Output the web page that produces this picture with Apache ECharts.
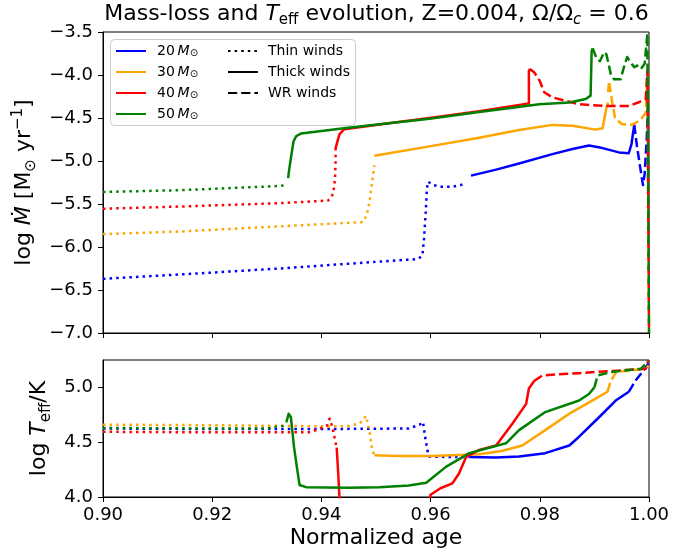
<!DOCTYPE html>
<html><head><meta charset="utf-8">
<script src="https://cdn.jsdelivr.net/npm/echarts@6/dist/echarts.min.js"></script>
<style>html,body{margin:0;padding:0;background:#fff}#c{width:699px;height:555px}</style>
</head><body><div id="c"></div>
<script>
// ---------- categories / ticks ----------
const masses = ['20', '30', '40', '50'];
const massColors = ['#0000ff', '#ffa500', '#ff0000', '#008000'];
const windTypes = ['Thin winds', 'Thick winds', 'WR winds'];
const xTicks = [0.90, 0.92, 0.94, 0.96, 0.98, 1.00];
const mdotTicks = [-7.0, -6.5, -6.0, -5.5, -5.0, -4.5, -4.0, -3.5];
const teffTicks = [4.0, 4.5, 5.0];

// ---------- log Mdot (top panel) ----------
const mdot20Thin = [[0.900,-6.37],[0.914,-6.32],[0.9324,-6.25],[0.9506,-6.17],[0.9577,-6.14],[0.9585,-6.10],[0.9588,-5.90],[0.9591,-5.60],[0.9593,-5.35],[0.9595,-5.24],[0.9605,-5.28],[0.9620,-5.30],[0.9640,-5.30],[0.9655,-5.28],[0.9662,-5.26]];
const mdot20Thick = [[0.9674,-5.17],[0.9720,-5.10],[0.9762,-5.03],[0.9823,-4.92],[0.9860,-4.86],[0.9890,-4.82],[0.9915,-4.85],[0.9945,-4.90],[0.9963,-4.91],[0.9968,-4.80],[0.9973,-4.58]];
const mdot20WR = [[0.9973,-4.58],[0.9978,-4.83],[0.9985,-5.12],[0.9989,-5.28],[0.9992,-5.15],[0.9996,-4.73],[0.9998,-4.40]];

const mdot30Thin = [[0.900,-5.85],[0.914,-5.82],[0.9324,-5.76],[0.9476,-5.71],[0.9483,-5.63],[0.9488,-5.48],[0.9493,-5.24],[0.9495,-5.14],[0.9497,-5.05]];
const mdot30Thick = [[0.9497,-4.94],[0.9598,-4.83],[0.9689,-4.73],[0.9762,-4.64],[0.9823,-4.58],[0.9860,-4.59],[0.9902,-4.635],[0.9915,-4.62],[0.9922,-4.38],[0.9925,-4.32]];
const mdot30WR = [[0.9925,-4.20],[0.9927,-4.07],[0.9933,-4.34],[0.9938,-4.50],[0.9950,-4.57],[0.9969,-4.58],[0.9985,-4.52],[0.9994,-4.44],[0.9997,-4.03]];

const mdot40Thin = [[0.900,-5.555],[0.914,-5.53],[0.9324,-5.49],[0.9412,-5.46],[0.9418,-5.43],[0.9422,-5.36],[0.9425,-5.20],[0.9426,-5.00],[0.9426,-4.85]];
const mdot40Thick = [[0.9426,-4.85],[0.9433,-4.69],[0.9442,-4.63],[0.9520,-4.565],[0.9598,-4.50],[0.9689,-4.42],[0.9780,-4.33],[0.9780,-3.95],[0.9782,-3.93]];
const mdot40WR = [[0.9782,-3.93],[0.9790,-3.97],[0.9800,-4.07],[0.9808,-4.20],[0.9823,-4.26],[0.9872,-4.34],[0.9920,-4.36],[0.9963,-4.36],[0.9980,-4.32],[0.9994,-4.28],[0.9997,-3.95],[1.0,-7.0]];

const mdot50Thin = [[0.900,-5.36],[0.914,-5.34],[0.9324,-5.29],[0.9336,-5.28]];
const mdot50Thick = [[0.9339,-5.20],[0.9341,-5.10],[0.9345,-4.93],[0.9349,-4.77],[0.9354,-4.71],[0.9363,-4.68],[0.9445,-4.615],[0.9598,-4.51],[0.9689,-4.43],[0.9799,-4.34],[0.9854,-4.32],[0.9884,-4.28],[0.9893,-4.24],[0.9895,-3.72],[0.9897,-3.69]];
const mdot50WR = [[0.9897,-3.69],[0.9903,-3.79],[0.9910,-3.84],[0.9918,-3.735],[0.9922,-3.76],[0.9930,-3.99],[0.9936,-4.05],[0.9948,-4.05],[0.9954,-3.91],[0.9960,-3.79],[0.9966,-3.85],[0.9973,-3.91],[0.9978,-3.89],[0.9985,-3.93],[0.9992,-3.87],[0.9997,-3.52],[1.0,-3.5],[1.0,-7.0]];

// ---------- log Teff (bottom panel) ----------
const teff20Thin = [[0.900,4.625],[0.920,4.62],[0.940,4.62],[0.9560,4.625],[0.9580,4.66],[0.9586,4.685],[0.9590,4.55],[0.9594,4.43],[0.9597,4.37],[0.9630,4.365],[0.9671,4.365]];
const teff20Thick = [[0.9671,4.365],[0.9720,4.36],[0.9762,4.37],[0.9810,4.40],[0.9854,4.47],[0.9872,4.55],[0.9909,4.73],[0.9939,4.88],[0.9963,4.96]];
const teff20WR = [[0.9963,4.96],[0.9975,5.06],[0.9994,5.18],[0.9999,5.22]];

const teff30Thin = [[0.900,4.66],[0.920,4.655],[0.940,4.645],[0.9446,4.645],[0.9470,4.67],[0.9482,4.74],[0.9488,4.60],[0.9493,4.43],[0.9497,4.38]];
const teff30Thick = [[0.9497,4.38],[0.9540,4.375],[0.9600,4.375],[0.9689,4.39],[0.9730,4.42],[0.9768,4.47],[0.9810,4.61],[0.9854,4.76],[0.9896,4.88],[0.9924,4.96]];
const teff30WR = [[0.9924,4.96],[0.9930,5.06],[0.9940,5.14],[0.9994,5.17],[0.9999,5.20]];

const teff40Thin = [[0.900,4.595],[0.920,4.59],[0.9380,4.59],[0.9410,4.65],[0.9415,4.715],[0.9420,4.64],[0.9425,4.52],[0.9428,4.45]];
const teff40Thick = [[0.9428,4.45],[0.9431,4.20],[0.9434,3.90],[0.9450,3.50],[0.9590,3.50],[0.9596,3.90],[0.9600,4.02],[0.9618,4.08],[0.9640,4.125],[0.9652,4.215],[0.9665,4.365],[0.9689,4.43],[0.9720,4.47],[0.9750,4.67],[0.9775,4.85],[0.9780,4.99],[0.9790,5.06]];
const teff40WR = [[0.9790,5.06],[0.9805,5.11],[0.9870,5.13],[0.9994,5.17],[0.9999,5.25]];

const teff50Thin = [[0.900,4.63],[0.920,4.625],[0.9300,4.625],[0.9330,4.65],[0.9336,4.685]];
const teff50Thick = [[0.9336,4.685],[0.9340,4.76],[0.9344,4.73],[0.9350,4.45],[0.9355,4.275],[0.9360,4.11],[0.9372,4.09],[0.9450,4.085],[0.9506,4.09],[0.9560,4.105],[0.9592,4.13],[0.9628,4.275],[0.9671,4.40],[0.9738,4.49],[0.9762,4.61],[0.9810,4.775],[0.9872,4.88],[0.9890,4.94],[0.9900,5.00]];
const teff50WR = [[0.9900,5.00],[0.9906,5.11],[0.9930,5.14],[0.9985,5.17],[0.9999,5.24]];

const mdotSets = [
  [mdot20Thin, mdot20Thick, mdot20WR],
  [mdot30Thin, mdot30Thick, mdot30WR],
  [mdot40Thin, mdot40Thick, mdot40WR],
  [mdot50Thin, mdot50Thick, mdot50WR]
];
const teffSets = [
  [teff20Thin, teff20Thick, teff20WR],
  [teff30Thin, teff30Thick, teff30WR],
  [teff40Thin, teff40Thick, teff40WR],
  [teff50Thin, teff50Thick, teff50WR]
];

// ---------- styles ----------
const LW = 2.5;
const windDash = [[2.5, 4.1], 'solid', [9.2, 4]];
const FONT = 'DejaVu Sans';

function seg(name, color, data, w, grid) {
  return {
    type: 'line', name: name, data: data,
    xAxisIndex: grid, yAxisIndex: grid,
    symbol: 'none', showSymbol: false, animation: false, clip: true,
    lineStyle: { color: color, width: LW, type: windDash[w], join: 'round', cap: 'butt' },
    itemStyle: { color: color },
    emphasis: { disabled: true }
  };
}

const series = [];
masses.forEach((m, i) => {
  // thick first, so the legend icon is solid
  [1, 0, 2].forEach(w => {
    series.push(seg(m, massColors[i], mdotSets[i][w], w, 0));
    series.push(seg(m, massColors[i], teffSets[i][w], w, 1));
  });
});
windTypes.forEach((t, w) => {
  series.push(seg(t, '#000000', [], w, 0));
});

const minus = s => s.replace('-', '\u2212');
const base = { fontFamily: FONT, color: '#000', fontWeight: 'normal' };

const chart = echarts.init(document.getElementById('c'), null, { renderer: 'canvas' });
chart.setOption({
  animation: false,
  backgroundColor: '#ffffff',
  title: {
    text: '{a|Mass-loss and }{i|T}{s|eff}{a| evolution, Z=0.004, Ω/Ω}{si|c}{a| = 0.6}',
    left: 376.5, top: 0, padding: 0, textAlign: 'center',
    textStyle: {
      fontWeight: 'normal', fontFamily: FONT, fontSize: 22,
      rich: {
        a: Object.assign({ fontSize: 22, lineHeight: 28, verticalAlign: 'middle' }, base),
        i: Object.assign({ fontSize: 22, lineHeight: 28, verticalAlign: 'middle', fontStyle: 'italic' }, base),
        s: Object.assign({ fontSize: 15, lineHeight: 15, verticalAlign: 'bottom' }, base),
        si: Object.assign({ fontSize: 15, lineHeight: 15, verticalAlign: 'bottom', fontStyle: 'italic' }, base)
      }
    }
  },
  grid: [
    { left: 103, top: 32, width: 546, height: 301, show: true, borderColor: '#000', borderWidth: 1, backgroundColor: 'transparent' },
    { left: 103, top: 360, width: 546, height: 137, show: true, borderColor: '#000', borderWidth: 1, backgroundColor: 'transparent' }
  ],
  xAxis: [0, 1].map(g => ({
    type: 'value', gridIndex: g, min: 0.9, max: 1.0, interval: 0.02,
    axisLine: { show: true, onZero: false, lineStyle: { color: '#000', width: 1 } },
    axisTick: { show: true, length: 5, inside: false, lineStyle: { color: '#000', width: 1 }, customValues: xTicks },
    axisLabel: { show: g === 1, fontSize: 18, margin: 9, fontFamily: FONT, color: '#000',
      customValues: xTicks, formatter: v => v.toFixed(2) },
    splitLine: { show: false },
    name: g === 1 ? 'Normalized age' : '',
    nameLocation: 'middle', nameGap: 30,
    nameTextStyle: { fontSize: 22, fontFamily: FONT, color: '#000' }
  })),
  yAxis: [
    {
      type: 'value', gridIndex: 0, min: -7, max: -3.5, interval: 0.5,
      axisLine: { show: true, onZero: false, lineStyle: { color: '#000', width: 1 } },
      axisTick: { show: true, length: 5, lineStyle: { color: '#000', width: 1 }, customValues: mdotTicks },
      axisLabel: { fontSize: 18, margin: 10, fontFamily: FONT, color: '#000',
        customValues: mdotTicks, formatter: v => minus(v.toFixed(1)) },
      splitLine: { show: false },
      name: '{a|log }{i|Ṁ}{a| [M}{s|⊙}{a| yr}{p|\u22121}{a|]}',
      nameLocation: 'middle', nameRotate: 90, nameGap: 58,
      nameTextStyle: {
        rich: {
          a: Object.assign({ fontSize: 22, lineHeight: 28, verticalAlign: 'middle' }, base),
          i: Object.assign({ fontSize: 22, lineHeight: 28, verticalAlign: 'middle', fontStyle: 'italic' }, base),
          s: Object.assign({ fontSize: 15, lineHeight: 15, verticalAlign: 'bottom' }, base),
          p: Object.assign({ fontSize: 15, lineHeight: 15, verticalAlign: 'top' }, base)
        }
      }
    },
    {
      type: 'value', gridIndex: 1, min: 4.0, max: 5.25, interval: 0.5,
      axisLine: { show: true, onZero: false, lineStyle: { color: '#000', width: 1 } },
      axisTick: { show: true, length: 5, lineStyle: { color: '#000', width: 1 }, customValues: teffTicks },
      axisLabel: { fontSize: 18, margin: 10, fontFamily: FONT, color: '#000',
        customValues: teffTicks, formatter: v => v.toFixed(1) },
      splitLine: { show: false },
      name: '{a|log }{i|T}{s|eff}{a|/K}',
      nameLocation: 'middle', nameRotate: 90, nameGap: 48,
      nameTextStyle: {
        rich: {
          a: Object.assign({ fontSize: 22, lineHeight: 28, verticalAlign: 'middle' }, base),
          i: Object.assign({ fontSize: 22, lineHeight: 28, verticalAlign: 'middle', fontStyle: 'italic' }, base),
          s: Object.assign({ fontSize: 15, lineHeight: 15, verticalAlign: 'bottom' }, base)
        }
      }
    }
  ],
  graphic: [{
    type: 'rect', z: 3, silent: true,
    shape: { x: 110.5, y: 39.5, width: 245, height: 86, r: 4 },
    style: { fill: 'rgba(255,255,255,0.8)', stroke: '#cccccc', lineWidth: 1 }
  }],
  legend: [
    {
      data: masses.map(m => ({ name: m, lineStyle: { type: 'solid' } })),
      orient: 'vertical', left: 115, top: 44, padding: 0,
      itemWidth: 30, itemHeight: 14, itemGap: 7,
      itemStyle: { opacity: 0 },
      selectedMode: false, z: 5,
      formatter: n => '{n|' + n + '\u2009}{m|M}{s|⊙}',
      textStyle: {
        rich: {
          n: Object.assign({ fontSize: 14, lineHeight: 14, padding: [0, 0, 0, 6] }, base),
          m: Object.assign({ fontSize: 14, lineHeight: 14, fontStyle: 'italic' }, base),
          s: Object.assign({ fontSize: 10, lineHeight: 10, verticalAlign: 'bottom' }, base)
        }
      }
    },
    {
      data: windTypes,
      orient: 'vertical', left: 227, top: 44, padding: 0,
      itemWidth: 30, itemHeight: 14, itemGap: 7,
      itemStyle: { opacity: 0 },
      selectedMode: false, z: 5,
      formatter: n => '{t|' + n + '}',
      textStyle: {
        rich: { t: Object.assign({ fontSize: 14, lineHeight: 14, padding: [0, 0, 0, 5] }, base) }
      }
    }
  ],
  series: series
});
</script>
</body></html>
